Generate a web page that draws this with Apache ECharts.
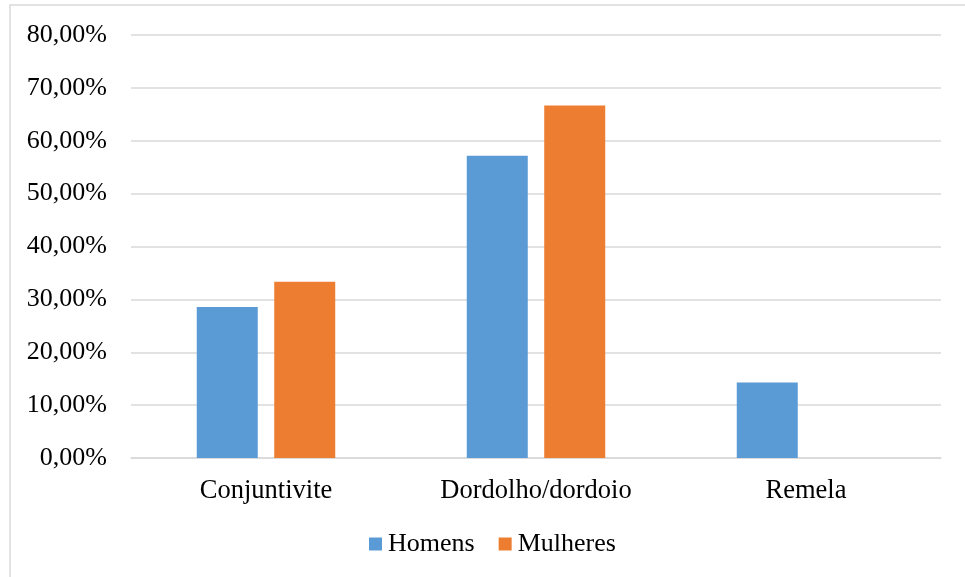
<!DOCTYPE html>
<html>
<head>
<meta charset="utf-8">
<script src="https://cdn.jsdelivr.net/npm/echarts@6/dist/echarts.min.js"></script>
<style>
  html, body { margin: 0; padding: 0; background: #fff; }
  #chart { width: 965px; height: 577px; }
</style>
</head>
<body>
<div id="chart"></div>
<script>
// Eye complaints reported, by sex (percent of respondents)
const categories = ['Conjuntivite', 'Dordolho/dordoio', 'Remela'];
const homens = [28.57, 57.14, 14.29];
const mulheres = [33.33, 66.67, 0];
const seriesNames = ['Homens', 'Mulheres'];

const FONT = "'Liberation Serif', 'Times New Roman', serif";
const FS = 26;
const chart = echarts.init(document.getElementById('chart'), null, { renderer: 'canvas' });

const fmtPct = v => v.toFixed(2).replace('.', ',') + '%';

chart.setOption({
  backgroundColor: '#ffffff',
  animation: false,
  textStyle: { fontFamily: FONT, color: '#000' },
  graphic: [{
    type: 'rect',
    shape: { x: 10, y: 5, width: 1000, height: 1000 },
    style: { fill: 'none', stroke: '#d9d9d9', lineWidth: 1.5 },
    silent: true
  }],
  grid: { left: 131, right: 24, top: 35, bottom: 119, containLabel: false },
  legend: {
    data: seriesNames,
    left: 364,
    top: 526,
    itemWidth: 13,
    itemHeight: 13,
    itemGap: 24,
    icon: 'rect',
    textStyle: { fontFamily: FONT, fontSize: FS, color: '#000', padding: [0, 0, 0, 1] }
  },
  xAxis: {
    type: 'category',
    data: categories,
    axisLine: { show: true, lineStyle: { color: '#d9d9d9', width: 1.5 } },
    axisTick: { show: false },
    axisLabel: { fontFamily: FONT, fontSize: 26.5, color: '#000', margin: 20 }
  },
  yAxis: {
    type: 'value',
    min: 0,
    max: 80,
    interval: 10,
    axisLine: { show: false },
    axisTick: { show: false },
    splitLine: { lineStyle: { color: '#d9d9d9', width: 1.5 } },
    axisLabel: { fontFamily: FONT, fontSize: FS, color: '#000', margin: 24, formatter: fmtPct }
  },
  series: [
    {
      name: seriesNames[0],
      type: 'bar',
      data: homens,
      barWidth: 61,
      barGap: '27%',
      itemStyle: { color: '#5B9BD5' }
    },
    {
      name: seriesNames[1],
      type: 'bar',
      data: mulheres,
      barWidth: 61,
      itemStyle: { color: '#ED7D31' }
    }
  ]
});
</script>
</body>
</html>
